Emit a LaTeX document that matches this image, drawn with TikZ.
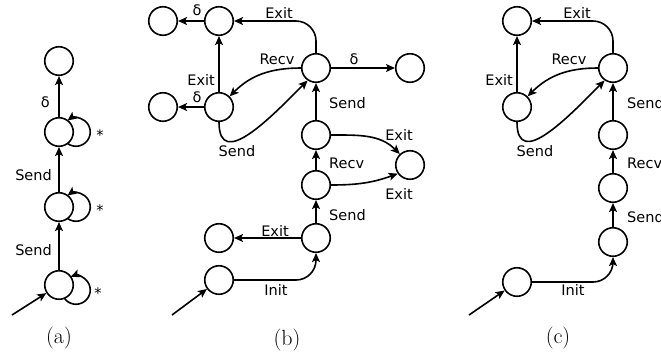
\documentclass[tikz,border=0pt]{standalone}
\usepackage{fontspec}
\newfontfamily\labfont{DejaVu Sans}
\usetikzlibrary{arrows.meta,calc}
\begin{document}
\begin{tikzpicture}[x=1pt,y=1pt,
  st/.style={circle,draw,line width=1.6pt,minimum size=28.5pt,inner sep=0pt},
  lb/.style={font=\labfont\fontsize{14.5}{16}\selectfont,inner sep=0pt},
  captext/.style={font=\fontsize{22}{26}\selectfont,inner sep=0pt},
  ar/.style={line width=1.6pt,-{Stealth[length=9pt,width=8pt,inset=2pt]}}]
\useasboundingbox (0,0) rectangle (661,-360);
\clip (0,0) rectangle (661,-360);
% ---------------- (a)
\node[st] (a1) at (59,-285) {};
\node[st] (a2) at (59,-207) {};
\node[st] (a3) at (59,-132) {};
\node[st] (a4) at (59,-61) {};
\coordinate (ea) at (12,-315);
\draw[ar] (ea) -- (a1);
\draw[ar] (a1) -- (a2);
\draw[ar] (a2) -- (a3);
\draw[ar] (a3) -- (a4);
\draw[ar] ($(a1)+(17,-5)+(-144.8:14.25)$) arc[start angle=-144.8,end angle=112,radius=14.25];
\draw[ar] ($(a2)+(17,0)+(-126.6:14.25)$) arc[start angle=-126.6,end angle=126.6,radius=14.25];
\draw[ar] ($(a3)+(17,0)+(-126.6:14.25)$) arc[start angle=-126.6,end angle=126.6,radius=14.25];
\node[lb] (sa1) at (98,-293) {*};
\node[lb] (sa2) at (100,-210) {*};
\node[lb] (sa3) at (100,-135) {*};
\node[lb,anchor=east] (la1) at (52,-250) {Send};
\node[lb,anchor=east] (la2) at (52,-175) {Send};
\node[lb,anchor=east] (la3) at (50,-102) {δ};
\node[captext] (capa) at (59,-338) {(a)};
% ---------------- (b)
\node[st] (b1) at (163,-21) {};
\node[st] (b2) at (219,-21) {};
\node[st] (b3) at (316,-68) {};
\node[st] (b4) at (410,-68) {};
\node[st] (b5) at (163,-107) {};
\node[st] (b6) at (219,-107) {};
\node[st] (b7) at (316,-135) {};
\node[st] (b8) at (410,-165) {};
\node[st] (b9) at (316,-185) {};
\node[st] (b10) at (316,-238) {};
\node[st] (b11) at (219,-238) {};
\node[st] (b12) at (219,-280) {};
\coordinate (eb) at (172,-315);
\draw[ar] (eb) -- (b12);
\draw[ar] (b2) -- (b1);
\draw[ar] (b6) -- (b5);
\draw[ar] (b6) -- (b2);
\draw[ar,rounded corners=20pt] (b3.north) |- (b2.east);
\draw[ar] (b3.west) to[out=180,in=45] (b6.north east);
\draw[ar] (b6.south) to[out=-90,in=-135,looseness=1.3] (b3.-124);
\draw[ar] (b3) -- (b4);
\draw[ar] (b7) -- (b3);
\draw[ar] (b7.east) to[out=0,in=135] (b8.133);
\draw[ar] (b9.east) to[out=0,in=-160] (b8.-145);
\draw[ar] (b9) -- (b7);
\draw[ar] (b10) -- (b9);
\draw[ar] (b10) -- (b11);
\draw[ar,rounded corners=20pt] (b12.east) -| (b10.south);
\node[lb] (lb1) at (197,-10) {δ};
\node[lb] (lb2) at (197,-97) {δ};
\node[lb] (lb3) at (279,-13) {Exit};
\node[lb] (lb4) at (277,-59) {Recv};
\node[lb] (lb5) at (354,-59) {δ};
\node[lb,anchor=east] (lb6) at (215,-80) {Exit};
\node[lb,anchor=west] (lb7) at (329,-103) {Send};
\node[lb] (lb8) at (237,-151) {Send};
\node[lb] (lb9) at (399,-135) {Exit};
\node[lb,anchor=west] (lb10) at (329,-163) {Recv};
\node[lb] (lb11) at (399,-194) {Exit};
\node[lb,anchor=west] (lb12) at (329,-215) {Send};
\node[lb] (lb13) at (275,-231) {Exit};
\node[lb] (lb14) at (276,-290) {Init};
\node[captext] (capb) at (287,-340) {(b)};
% ---------------- (c)
\node[st] (c1) at (517,-21) {};
\node[st] (c2) at (613,-68) {};
\node[st] (c3) at (517,-107) {};
\node[st] (c4) at (613,-135) {};
\node[st] (c5) at (613,-188) {};
\node[st] (c6) at (613,-242) {};
\node[st] (c7) at (517,-282) {};
\coordinate (ec) at (469,-315);
\draw[ar] (ec) -- (c7);
\draw[ar] (c3) -- (c1);
\draw[ar,rounded corners=20pt] (c2.north) |- (c1.east);
\draw[ar] (c2.west) to[out=180,in=45] (c3.north east);
\draw[ar] (c3.south) to[out=-90,in=-135,looseness=1.3] (c2.-124);
\draw[ar] (c4) -- (c2);
\draw[ar] (c5) -- (c4);
\draw[ar] (c6) -- (c5);
\draw[ar,rounded corners=20pt] (c7.east) -| (c6.south);
\node[lb] (lc1) at (577,-13) {Exit};
\node[lb] (lc2) at (569,-59) {Recv};
\node[lb,anchor=east] (lc3) at (513,-80) {Exit};
\node[lb] (lc4) at (535,-151) {Send};
\node[lb,anchor=west] (lc5) at (627,-103) {Send};
\node[lb,anchor=west] (lc6) at (627,-163) {Recv};
\node[lb,anchor=west] (lc7) at (627,-217) {Send};
\node[lb] (lc8) at (573,-290) {Init};
\node[captext] (capc) at (558,-338) {(c)};
\end{tikzpicture}
\end{document}
